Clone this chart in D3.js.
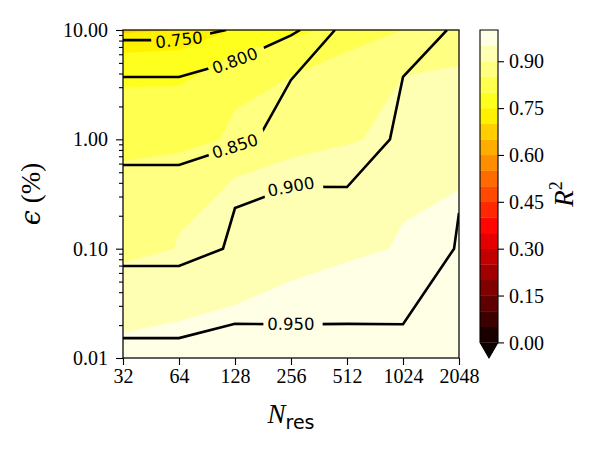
<!DOCTYPE html>
<html><head><meta charset="utf-8">
<script src="https://cdn.jsdelivr.net/npm/d3@7"></script>
<style>body{margin:0;background:#fff} svg{display:block}</style>
</head><body>
<svg id="chart" width="600" height="450"></svg>
<script>
// ---- data ----
const nres = [32, 64, 128, 256, 512, 1024, 2048];          // columns (x)
const eps = [0.01, 0.1, 1, 10];                            // rows (y, %)
// R^2 field used for the filled bands (rows follow eps)
const r2Fill = [
  [0.956, 0.957, 0.9575, 0.960, 0.965, 0.968, 0.970],
  [0.877, 0.903, 0.9246, 0.9378, 0.9444, 0.9524, 0.965],
  [0.831, 0.830, 0.860, 0.8786, 0.8936, 0.9224, 0.9097],
  [0.690, 0.700, 0.755, 0.785, 0.820, 0.850, 0.886]
];
// R^2 field used for the labelled contour lines (rows follow eps)
const r2Lines = [
  [0.9548, 0.9548, 0.9552, 0.9550, 0.9555, 0.9526, 0.9650],
  [0.8717, 0.8717, 0.9108, 0.9114, 0.9084, 0.9300, 0.9527],
  [0.8312, 0.8312, 0.8388, 0.8730, 0.8800, 0.9085, 0.9310],
  [0.7279, 0.7279, 0.7559, 0.7900, 0.8730, 0.8804, 0.9075]
];
const fillLevels = [0.00,0.05,0.10,0.15,0.20,0.25,0.30,0.35,0.40,0.45,0.50,0.55,0.60,0.65,0.70,0.75,0.80,0.85,0.90,0.95,1.00];
const lineLevels = [0.75, 0.80, 0.85, 0.90, 0.95];
const lineLabels = ["0.750", "0.800", "0.850", "0.900", "0.950"];
const labelNres = [64, 128, 128, 256, 256];
const xTickLabels = ["32", "64", "128", "256", "512", "1024", "2048"];
const yTicks = [0.01, 0.1, 1, 10];
const yTickLabels = ["0.01", "0.10", "1.00", "10.00"];
const cbTicks = [0, 0.15, 0.30, 0.45, 0.60, 0.75, 0.90];
const cbTickLabels = ["0.00", "0.15", "0.30", "0.45", "0.60", "0.75", "0.90"];

// ---- layout ----
const L = 123, R = 459, T = 30, B = 358;
const svg = d3.select("#chart");
const x = d3.scaleLog().base(2).domain([32, 2048]).range([L, R]);
const y = d3.scaleLog().domain([0.01, 10]).range([B, T]);
const nx = nres.length, ny = eps.length;

// matplotlib "hot" colormap
function seg(t, s) {
  for (let i = 0; i < s.length - 1; i++) {
    if (t <= s[i + 1][0]) {
      const f = (t - s[i][0]) / (s[i + 1][0] - s[i][0]);
      return s[i][1] + f * (s[i + 1][1] - s[i][1]);
    }
  }
  return s[s.length - 1][1];
}
function hot(t) {
  t = Math.max(0, Math.min(1, t));
  const r = seg(t, [[0, 0.0416], [0.365079, 1], [1, 1]]);
  const g = seg(t, [[0, 0], [0.365079, 0], [0.746032, 1], [1, 1]]);
  const b = seg(t, [[0, 0], [0.746032, 0], [1, 1]]);
  return d3.rgb(r * 255, g * 255, b * 255).toString();
}

// map d3.contours grid coords (node i at i+0.5) to pixels, interpolating linearly in data space
function mapPt(p) {
  const u = Math.max(0, Math.min(nx - 1, p[0] - 0.5));
  const v = Math.max(0, Math.min(ny - 1, p[1] - 0.5));
  const i = Math.min(Math.floor(u), nx - 2), ti = u - i;
  const j = Math.min(Math.floor(v), ny - 2), tj = v - j;
  const xd = nres[i] + ti * (nres[i + 1] - nres[i]);
  const yd = eps[j] + tj * (eps[j + 1] - eps[j]);
  const e = 1e-9;
  return { x: x(xd), y: y(yd), l: u <= e, r: u >= nx - 1 - e, b: v <= e, t: v >= ny - 1 - e };
}

const clip = svg.append("defs").append("clipPath").attr("id", "plotclip");
clip.append("rect").attr("x", L).attr("y", T).attr("width", R - L).attr("height", B - T);

// ---- filled bands ----
const flatFill = r2Fill.flat();
const fillGen = d3.contours().size([nx, ny]).thresholds(fillLevels.slice(0, -1));
const fills = fillGen(flatFill);
const gFill = svg.append("g").attr("clip-path", "url(#plotclip)");
gFill.append("rect").attr("x", L).attr("y", T).attr("width", R - L).attr("height", B - T).attr("fill", hot(0));
fills.forEach((mp, k) => {
  let d = "";
  mp.coordinates.forEach(poly => poly.forEach(ring => {
    const pts = ring.map(mapPt);
    d += "M" + pts.map(p => p.x.toFixed(2) + "," + p.y.toFixed(2)).join("L") + "Z";
  }));
  if (!d) return;
  const mid = (fillLevels[k] + fillLevels[k + 1]) / 2;
  gFill.append("path").attr("d", d).attr("fill", hot(mid)).attr("fill-rule", "evenodd")
    .attr("stroke", hot(mid)).attr("stroke-width", 0.4);
});

// ---- contour lines ----
const lineGen = d3.contours().size([nx, ny]).thresholds(lineLevels);
const lineSets = lineGen(r2Lines.flat());
function ringsToLines(mp) {
  const out = [];
  mp.coordinates.forEach(poly => poly.forEach(ring => {
    const pts = ring.map(mapPt);
    const n = pts.length - 1;
    const kind = [];
    for (let k = 0; k < n; k++) {
      const a = pts[k], b = pts[k + 1];
      const border = (a.l && b.l) || (a.r && b.r) || (a.t && b.t) || (a.b && b.b);
      const zero = Math.hypot(a.x - b.x, a.y - b.y) < 1e-6;
      kind.push(border ? 0 : (zero ? 1 : 2));
    }
    let start = kind.indexOf(0);
    if (start < 0) { out.push(pts.map(p => [p.x, p.y])); return; }
    let cur = null;
    for (let s = 1; s <= n; s++) {
      const k = (start + s) % n;
      if (kind[k] === 2) {
        if (!cur) cur = [[pts[k].x, pts[k].y]];
        cur.push([pts[k + 1].x, pts[k + 1].y]);
      } else if (kind[k] === 0) {
        if (cur) { out.push(cur); cur = null; }
      }
    }
    if (cur) out.push(cur);
  }));
  return out;
}
const polylines = lineSets.map(ringsToLines);

function yAt(lines, px) {
  for (const pl of lines) {
    for (let k = 0; k < pl.length - 1; k++) {
      const a = pl[k], b = pl[k + 1];
      const lo = Math.min(a[0], b[0]), hi = Math.max(a[0], b[0]);
      if (px >= lo - 1e-6 && px <= hi + 1e-6 && hi - lo > 1e-6) {
        return a[1] + (px - a[0]) / (b[0] - a[0]) * (b[1] - a[1]);
      }
    }
  }
  return null;
}

// labels and mask
const defs = svg.select("defs");
const mask = defs.append("mask").attr("id", "labelmask").attr("maskUnits", "userSpaceOnUse")
  .attr("x", 0).attr("y", 0).attr("width", 600).attr("height", 450);
mask.append("rect").attr("x", 0).attr("y", 0).attr("width", 600).attr("height", 450).attr("fill", "white");

const gLines = svg.append("g").attr("clip-path", "url(#plotclip)");
const gLinesInner = gLines.append("g").attr("mask", "url(#labelmask)");
const gLabels = svg.append("g");
const lineFn = d3.line();
polylines.forEach((lines, k) => {
  lines.forEach(pl => {
    gLinesInner.append("path").attr("d", lineFn(pl)).attr("fill", "none")
      .attr("stroke", "#000").attr("stroke-width", 2.6).attr("stroke-linejoin", "miter");
  });
  const px = x(labelNres[k]);
  const py = yAt(lines, px);
  if (py === null) return;
  const yl = yAt(lines, px - 20), yr = yAt(lines, px + 20);
  let ang = 0;
  if (yl !== null && yr !== null) ang = Math.atan2(yr - yl, 40) * 180 / Math.PI;
  const g = gLabels.append("g").attr("transform", `translate(${px},${py}) rotate(${ang})`);
  const t = g.append("text").text(lineLabels[k]).attr("text-anchor", "middle")
    .attr("dominant-baseline", "central")
    .attr("font-family", "DejaVu Sans").attr("font-size", 16.5).attr("fill", "#000");
  const w = t.node().getComputedTextLength();
  mask.append("rect").attr("x", -w / 2 - 4).attr("y", -10).attr("width", w + 12).attr("height", 20)
    .attr("fill", "black").attr("transform", `translate(${px},${py}) rotate(${ang})`);
});

// ---- axes ----
const tickFont = "Liberation Serif";
const gx = svg.append("g").attr("transform", `translate(0,${B})`)
  .call(d3.axisBottom(x).tickValues(nres).tickFormat((d, i) => xTickLabels[i]).tickSize(7).tickPadding(4).tickSizeOuter(0));
const yMinor = y.ticks().filter(v => !yTicks.some(t => Math.abs(t - v) / t < 1e-6));
const gyMinor = svg.append("g").attr("transform", `translate(${L},0)`)
  .call(d3.axisLeft(y).tickValues(yMinor).tickFormat("").tickSize(4).tickSizeOuter(0));
const gy = svg.append("g").attr("transform", `translate(${L},0)`)
  .call(d3.axisLeft(y).tickValues(yTicks).tickFormat((d, i) => yTickLabels[i]).tickSize(7).tickPadding(8).tickSizeOuter(0));
[gx, gy, gyMinor].forEach(g => {
  g.select(".domain").remove();
  g.selectAll("line").attr("stroke", "#000").attr("stroke-width", 1.1);
  g.selectAll("text").attr("font-family", tickFont).attr("font-size", 20).attr("fill", "#000");
});
gy.selectAll("text").attr("dy", "0.33em");

svg.append("rect").attr("x", L).attr("y", T).attr("width", R - L).attr("height", B - T)
  .attr("fill", "none").attr("stroke", "#000").attr("stroke-width", 1.25);

// axis labels
const xl = svg.append("text").attr("x", (L + R) / 2).attr("y", 423).attr("text-anchor", "middle")
  .attr("font-family", tickFont).attr("font-size", 27).attr("fill", "#000");
xl.append("tspan").attr("font-style", "italic").text("N");
xl.append("tspan").attr("font-family", "DejaVu Sans").attr("font-size", 19).attr("dy", 6).text("res");

const yl = svg.append("text").attr("transform", `translate(40,${(T + B) / 2}) rotate(-90)`)
  .attr("text-anchor", "middle").attr("font-family", tickFont).attr("font-size", 27).attr("fill", "#000");
yl.append("tspan").attr("font-family", "DejaVu Serif").attr("font-style", "italic").text("ϵ");
yl.append("tspan").text(" (%)");

// ---- colorbar ----
const cbL = 480, cbW = 18, cbBot = 342.4;
const cb = d3.scaleLinear().domain([0, 1]).range([cbBot, T]);
const gcb = svg.append("g");
fillLevels.slice(0, -1).forEach((lv, k) => {
  const hi = fillLevels[k + 1];
  gcb.append("rect").attr("x", cbL).attr("y", cb(hi)).attr("width", cbW).attr("height", cb(lv) - cb(hi) + 0.3)
    .attr("fill", hot((lv + hi) / 2));
});
const triD = `M${cbL},${cbBot}L${cbL + cbW},${cbBot}L${cbL + cbW / 2},${B}Z`;
gcb.append("path").attr("d", triD).attr("fill", hot(0));
gcb.append("path").attr("d", `M${cbL},${T}L${cbL + cbW},${T}L${cbL + cbW},${cbBot}L${cbL + cbW / 2},${B}L${cbL},${cbBot}Z`)
  .attr("fill", "none").attr("stroke", "#000").attr("stroke-width", 1.1);
const gcbAxis = svg.append("g").attr("transform", `translate(${cbL + cbW},0)`)
  .call(d3.axisRight(cb).tickValues(cbTicks).tickFormat((d, i) => cbTickLabels[i]).tickSize(6).tickPadding(5).tickSizeOuter(0));
gcbAxis.select(".domain").remove();
gcbAxis.selectAll("line").attr("stroke", "#000").attr("stroke-width", 1.1);
gcbAxis.selectAll("text").attr("font-family", tickFont).attr("font-size", 20).attr("fill", "#000").attr("dy", "0.33em");

const cl = svg.append("text").attr("transform", `translate(573,${(T + B) / 2}) rotate(-90)`)
  .attr("text-anchor", "middle").attr("font-family", tickFont).attr("font-size", 27).attr("fill", "#000");
cl.append("tspan").attr("font-style", "italic").text("R");
cl.append("tspan").attr("font-size", 18).attr("dy", -11).text("2");
</script>
</body></html>
